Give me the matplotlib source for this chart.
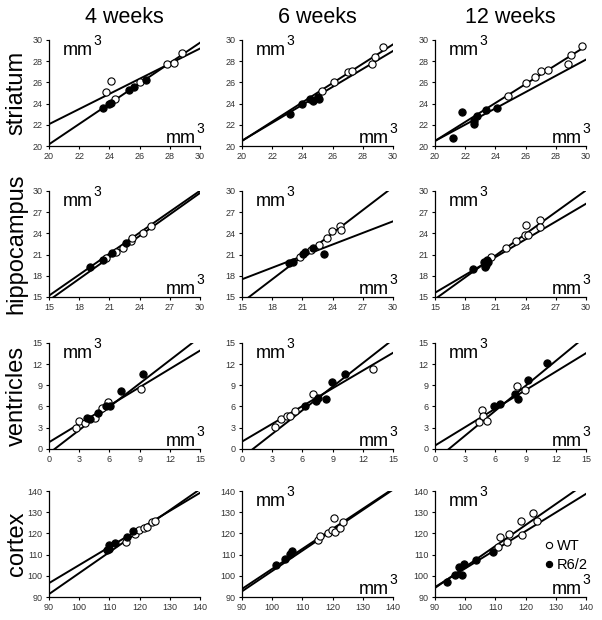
import numpy as np
import matplotlib
matplotlib.use('Agg')
import matplotlib.pyplot as plt
from matplotlib.lines import Line2D

plt.rcParams['font.family'] = ['Liberation Sans', 'DejaVu Sans']

weeks = ['4 weeks', '6 weeks', '12 weeks']
regions = ['striatum', 'hippocampus', 'ventricles', 'cortex']

# 坐标轴范围和刻度
lims = [(20, 30), (15, 30), (0, 15), (90, 140)]
steps = [2, 3, 3, 10]

# 纹状体 striatum
striatum_wt_x = [[23.8, 24.1, 24.4, 26.0, 27.8, 28.3, 28.8],
                 [25.3, 26.1, 27.0, 27.3, 28.6, 28.8, 29.3],
                 [24.8, 26.0, 26.6, 27.0, 27.5, 28.8, 29.0, 29.7]]
striatum_wt_y = [[25.1, 26.1, 24.4, 26.0, 27.7, 27.8, 28.8],
                 [25.2, 26.0, 27.0, 27.1, 27.7, 28.4, 29.3],
                 [24.7, 25.9, 26.5, 27.1, 27.2, 27.7, 28.6, 29.4]]
striatum_r6_x = [[23.6, 24.0, 24.1, 25.3, 25.6, 26.4],
                 [23.2, 24.0, 24.5, 24.7, 25.0, 25.1],
                 [21.2, 21.8, 22.6, 22.6, 22.8, 23.4, 24.1]]
striatum_r6_y = [[23.6, 24.0, 24.1, 25.3, 25.6, 26.2],
                 [23.0, 24.0, 24.4, 24.2, 24.6, 24.4],
                 [20.8, 23.2, 22.1, 22.4, 22.8, 23.4, 23.6]]
# (截距, 斜率)
striatum_fit = [[(7.78, 0.714), (0.98, 0.959)],
                [(2.26, 0.911), (3.56, 0.847)],
                [(2.58, 0.895), (5.12, 0.768)]]

# 海马 hippocampus
hippocampus_wt_x = [[20.7, 21.7, 22.3, 23.1, 23.2, 24.3, 25.1],
                    [20.8, 21.8, 22.6, 23.4, 23.9, 24.7, 24.8],
                    [20.6, 22.0, 23.0, 23.9, 24.0, 24.2, 25.4, 25.4]]
hippocampus_wt_y = [[20.5, 21.4, 21.9, 22.9, 23.4, 24.0, 25.1],
                    [20.6, 21.7, 22.4, 23.3, 24.4, 25.1, 24.5],
                    [20.6, 22.0, 22.9, 23.8, 25.2, 23.7, 25.9, 24.9]]
hippocampus_r6_x = [[19.1, 20.4, 21.3, 22.6],
                    [19.7, 20.1, 21.1, 21.3, 22.0, 23.1],
                    [18.8, 19.9, 20.1, 20.2, 20.0, 20.3]]
hippocampus_r6_y = [[19.3, 20.3, 21.2, 22.7],
                    [19.8, 20.0, 21.1, 21.4, 21.9, 21.1],
                    [18.9, 20.0, 19.5, 20.3, 19.3, 19.9]]
hippocampus_fit = [[(0.34, 0.99), (-0.67, 1.013)],
                   [(-2.1, 1.089), (9.3, 0.547)],
                   [(-0.71, 1.027), (3.0, 0.84)]]

# 脑室 ventricles
ventricles_wt_x = [[2.7, 3.0, 3.6, 4.6, 5.3, 5.9, 9.1],
                   [3.3, 3.9, 4.5, 4.8, 5.3, 7.0, 13.0],
                   [4.4, 4.7, 4.8, 5.2, 8.1, 8.9]]
ventricles_wt_y = [[3.0, 3.9, 3.6, 4.4, 5.8, 6.6, 8.5],
                   [3.1, 4.2, 4.6, 4.7, 5.3, 7.7, 11.3],
                   [3.8, 5.5, 4.6, 3.9, 8.9, 8.4]]
ventricles_r6_x = [[3.8, 4.1, 4.9, 5.7, 6.1, 7.1, 9.3],
                   [6.3, 7.3, 7.5, 8.3, 8.9, 10.2],
                   [5.9, 6.5, 7.9, 8.2, 9.2, 11.1]]
ventricles_r6_y = [[4.3, 4.2, 5.1, 6.0, 6.0, 8.2, 10.6],
                   [6.0, 6.8, 7.2, 7.1, 9.4, 10.6],
                   [6.0, 6.3, 7.7, 7.0, 9.7, 12.1]]
ventricles_fit = [[(0.94, 0.865), (-0.63, 1.098)],
                  [(1.03, 0.838), (-1.22, 1.114)],
                  [(0.47, 0.872), (-1.63, 1.174)]]

# 皮层 cortex
cortex_wt_x = [[115.6, 118.6, 119.7, 121.3, 122.4, 124.1, 125.2],
               [115.3, 115.8, 118.6, 119.7, 120.3, 120.8, 122.3, 123.4],
               [111.0, 111.6, 113.8, 114.4, 118.3, 118.7, 122.4, 123.8]]
cortex_wt_y = [[115.9, 119.8, 121.4, 122.8, 123.2, 125.6, 125.9],
               [117.1, 118.7, 120.3, 121.5, 127.1, 120.6, 122.7, 125.3],
               [113.7, 118.2, 115.9, 119.8, 125.8, 119.5, 129.7, 125.8]]
cortex_r6_x = [[109.3, 109.7, 109.9, 111.9, 115.8, 117.8],
               [101.2, 104.2, 105.9, 106.4],
               [94.0, 96.5, 98.1, 99.0, 99.6, 103.4, 109.2]]
cortex_r6_y = [[112.0, 112.8, 114.6, 115.4, 118.3, 121.0],
               [104.9, 108.1, 110.2, 111.5],
               [97.1, 100.6, 104.2, 100.6, 105.8, 107.4, 111.2]]
cortex_fit = [[(19.9, 0.852), (2.3, 0.99)],
              [(8.8, 0.945), (6.3, 0.96)],
              [(5.2, 0.99), (15.5, 0.88)]]

wt_x = [striatum_wt_x, hippocampus_wt_x, ventricles_wt_x, cortex_wt_x]
wt_y = [striatum_wt_y, hippocampus_wt_y, ventricles_wt_y, cortex_wt_y]
r6_x = [striatum_r6_x, hippocampus_r6_x, ventricles_r6_x, cortex_r6_x]
r6_y = [striatum_r6_y, hippocampus_r6_y, ventricles_r6_y, cortex_r6_y]
fits = [striatum_fit, hippocampus_fit, ventricles_fit, cortex_fit]

fig = plt.figure(figsize=(6.02, 6.20), dpi=100)

lefts = [0.0814, 0.402, 0.7226]
bottoms = [0.7645, 0.521, 0.276, 0.037]
w, h = 0.251, 0.171


def unit_label(ax, x, y, ha):
    # 单位 mm^3：上标紧贴在 mm 右上角
    t = ax.text(x, y, 'mm', transform=ax.transAxes, fontsize=13, ha=ha)
    ax.annotate('3', xy=(1.0, 0.62), xycoords=t, xytext=(0.5, 0), textcoords='offset points',
                fontsize=10, ha='left', va='bottom')


for i in range(4):
    lo, hi = lims[i]
    ticks = np.arange(lo, hi + 0.1, steps[i])
    for j in range(3):
        ax = fig.add_axes([lefts[j], bottoms[i], w, h])
        xs = np.linspace(lo, hi, 50)
        for a, b in fits[i][j]:
            ax.plot(xs, a + b * xs, color='black', lw=1.4, zorder=2)
        ax.plot(wt_x[i][j], wt_y[i][j], 'o', ms=5.2, mfc='white', mec='black', mew=0.8, zorder=3)
        ax.plot(r6_x[i][j], r6_y[i][j], 'o', ms=5.2, mfc='black', mec='black', mew=0.8, zorder=3)
        ax.set_xlim(lo, hi)
        ax.set_ylim(lo, hi)
        ax.set_xticks(ticks)
        ax.set_yticks(ticks)
        ax.tick_params(labelsize=6.5, labelcolor='#333333', length=2.5, width=0.8, pad=2)
        for s in ['top', 'right']:
            ax.spines[s].set_visible(False)
        for s in ['left', 'bottom']:
            ax.spines[s].set_linewidth(0.9)
        if not (i == 3 and j == 0):
            unit_label(ax, 0.09, 0.86, 'left')
            unit_label(ax, 0.97, 0.03, 'right')
        if i == 0:
            ax.set_title(weeks[j], fontsize=15.5, pad=12)
        if j == 0:
            fig.text(0.028, bottoms[i] + h / 2, regions[i], rotation=90,
                     fontsize=17, ha='center', va='center')
        if i == 3 and j == 2:
            handles = [Line2D([], [], ls='', marker='o', ms=4.5, mfc='white', mec='black', mew=0.8),
                       Line2D([], [], ls='', marker='o', ms=4.5, mfc='black', mec='black', mew=0.8)]
            ax.legend(handles, ['WT', 'R6/2'], loc='center left', bbox_to_anchor=(0.68, 0.39),
                      frameon=False, fontsize=10.5, handlelength=0.6, handletextpad=0.2,
                      labelspacing=0.35, borderpad=0)

plt.savefig('out.png', dpi=100)
